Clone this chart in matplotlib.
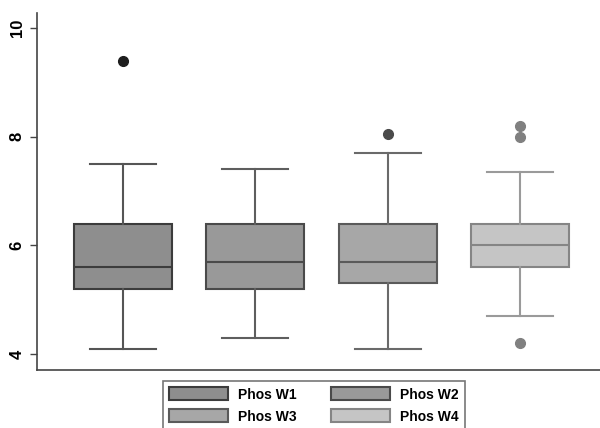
import matplotlib
matplotlib.use('Agg')
import matplotlib.pyplot as plt
from matplotlib.patches import Patch

labels = ['Phos W1', 'Phos W2', 'Phos W3', 'Phos W4']
q1 = [5.2, 5.2, 5.3, 5.6]
medians = [5.6, 5.7, 5.7, 6.0]
q3 = [6.4, 6.4, 6.4, 6.4]
whis_lo = [4.1, 4.3, 4.1, 4.7]
whis_hi = [7.5, 7.4, 7.7, 7.35]
outliers = [[9.4], [], [8.05], [8.2, 8.0, 4.2]]

fills = ['#8e8e8e', '#999999', '#a7a7a7', '#c5c5c5']
edges = ['#3c3c3c', '#4a4a4a', '#5a5a5a', '#858585']
whisk = ['#555555', '#5e5e5e', '#6a6a6a', '#9a9a9a']
dots = ['#1e1e1e', '#444444', '#4a4a4a', '#808080']

plt.rcParams['font.family'] = ['Liberation Sans', 'DejaVu Sans']

fig = plt.figure(figsize=(6, 4.28), dpi=100)
ax = fig.add_axes([0.0617, 0.1355, 0.9383, 0.834])

stats = []
for i in range(len(labels)):
    stats.append({'med': medians[i], 'q1': q1[i], 'q3': q3[i],
                  'whislo': whis_lo[i], 'whishi': whis_hi[i],
                  'fliers': outliers[i], 'label': labels[i]})

for i, s in enumerate(stats):
    ax.bxp([s], positions=[i + 1], widths=0.74, capwidths=0.5,
           patch_artist=True, showfliers=True,
           boxprops=dict(facecolor=fills[i], edgecolor=edges[i], linewidth=1.5),
           medianprops=dict(color=edges[i], linewidth=1.5),
           whiskerprops=dict(color=whisk[i], linewidth=1.5),
           capprops=dict(color=whisk[i], linewidth=1.5),
           flierprops=dict(marker='o', markerfacecolor=dots[i],
                           markeredgecolor=dots[i], markersize=7))

ax.set_xlim(0.35, 4.605)
ax.set_ylim(3.705, 10.276)
ax.set_yticks([4, 6, 8, 10])
ax.set_xticks([])
ax.tick_params(axis='y', length=5, width=1, color='#444444', labelsize=12, pad=4)
for t in ax.get_yticklabels():
    t.set_rotation(90)
    t.set_va('center')
    t.set_fontweight('semibold')
for side in ['top', 'right']:
    ax.spines[side].set_visible(False)
for side in ['left', 'bottom']:
    ax.spines[side].set_color('#444444')
    ax.spines[side].set_linewidth(1.2)

handles = [Patch(facecolor=fills[i], edgecolor=edges[i], linewidth=1.5, label=labels[i])
           for i in range(len(labels))]
leg = fig.legend(handles=[handles[0], handles[2], handles[1], handles[3]],
                 ncol=2, loc='upper left', bbox_to_anchor=(0.2717, 0.1098),
                 frameon=True, fancybox=False, edgecolor='#555555',
                 handlelength=4.25, handleheight=1.08, columnspacing=2.45,
                 handletextpad=0.72, labelspacing=0.55, borderpad=0.45,
                 borderaxespad=0, prop={'weight': 'bold', 'size': 10})
leg.get_frame().set_linewidth(1.2)

fig.savefig('out.png', dpi=100)
